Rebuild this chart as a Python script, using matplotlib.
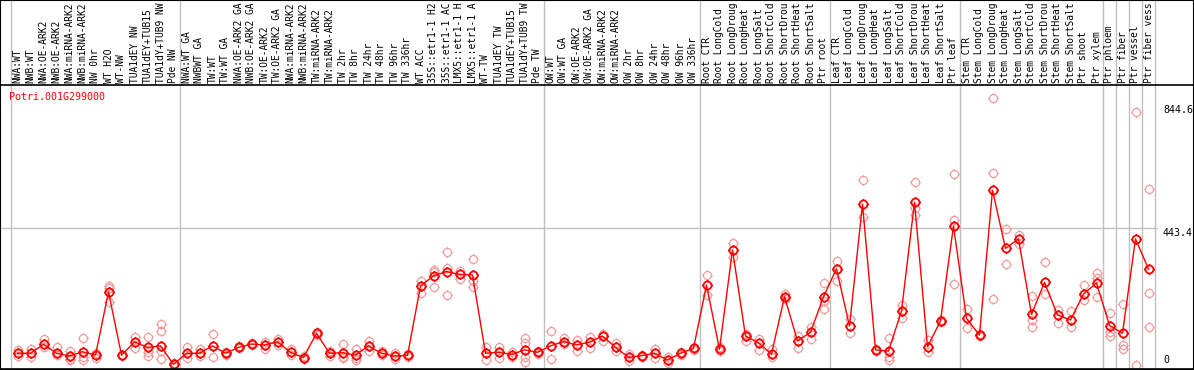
import matplotlib
matplotlib.use('Agg')
import matplotlib.pyplot as plt
from matplotlib.path import Path
from matplotlib.lines import Line2D
from matplotlib.patches import Rectangle
import numpy as np

# Sample names, in plot order (the chart shows at most 14 characters)
labels = [
    'NWA:WT', 'NWB:WT', 'NWA:OE-ARK2', 'NWB:OE-ARK2', 'NWA:miRNA-ARK2', 'NWB:miRNA-ARK2',
    'NW 0hr', 'WT H2O', 'WT-NW', 'TUA1dEY NW', 'TUA1dEY+TUB15', 'TUA1dY+TUB9 NW', 'Pde NW',
    'NWA:WT GA', 'NWBWT GA', 'TW:WT', 'TW:WT GA', 'NWA:OE-ARK2 GA', 'NWB:OE-ARK2 GA',
    'TW:OE-ARK2', 'TW:OE-ARK2 GA', 'NWA:miRNA-ARK2', 'NWB:miRNA-ARK2', 'TW:miRNA-ARK2',
    'TW:miRNA-ARK2', 'TW 2hr', 'TW 8hr', 'TW 24hr', 'TW 48hr', 'TW 96hr', 'TW 336hr', 'WT ACC',
    '35S::etr1-1 H2', '35S::etr1-1 AC', 'LMX5::etr1-1 H', 'LMX5::etr1-1 A', 'WT-TW',
    'TUA1dEY TW', 'TUA1dEY+TUB15', 'TUA1dY+TUB9 TW', 'Pde TW',
    'OW:WT', 'OW:WT GA', 'OW:OE-ARK2', 'OW:OE-ARK2 GA', 'OW:miRNA-ARK2', 'OW:miRNA-ARK2',
    'OW 2hr', 'OW 8hr', 'OW 24hr', 'OW 48hr', 'OW 96hr', 'OW 336hr',
    'Root CTR', 'Root LongCold', 'Root LongDroug', 'Root LongHeat', 'Root LongSalt',
    'Root ShortCold', 'Root ShortDrou', 'Root ShortHeat', 'Root ShortSalt', 'Ptr root',
    'Leaf CTR', 'Leaf LongCold', 'Leaf LongDroug', 'Leaf LongHeat', 'Leaf LongSalt',
    'Leaf ShortCold', 'Leaf ShortDrou', 'Leaf ShortHeat', 'Leaf ShortSalt', 'Ptr leaf',
    'Stem CTR', 'Stem LongCold', 'Stem LongDroug', 'Stem LongHeat', 'Stem LongSalt',
    'Stem ShortCold', 'Stem ShortDrou', 'Stem ShortHeat', 'Stem ShortSalt', 'Ptr shoot',
    'Ptr xylem', 'Ptr phloem', 'Ptr fiber', 'Ptr vessel', 'Ptr fiber vess',
]

# number of samples in each block between separator lines
group_sizes = [13, 28, 12, 10, 10, 11, 1, 1, 1, 1]

means = [
    38, 38, 67, 38, 29, 43, 32, 237, 32, 75, 57, 62, 2,
    38, 38, 62, 38, 57, 68, 65, 75, 41, 24, 103, 38, 40, 32, 62, 38, 29, 31,
    256, 289, 303, 294, 292, 38, 41, 34, 49, 41,
    62, 76, 65, 74, 94, 57, 25, 30, 38, 16, 38, 54,
    259, 51, 373, 94, 72, 35, 222, 78, 106, 221,
    312, 126, 522, 49, 45, 175, 528, 59, 143, 451,
    151, 97, 567, 378, 409, 164, 268, 162, 146, 230, 266,
    128, 103, 409, 311,
]

reps = [
    [48, 28], [51, 25], [83, 59], [57, 33], [45, 21, 15], [87, 27, 16], [38, 22],
    [256, 251, 204], [30, 34], [90, 56], [91, 43, 29], [133, 110, 46, 18], [0, 5],
    [59, 22], [51, 29], [101, 27], [43, 33], [60, 54], [72, 64], [75, 51], [83, 65],
    [51, 31], [20, 28], [108, 97], [46, 30], [68, 27, 22], [52, 22, 16], [79, 46],
    [46, 33], [40, 18], [35, 27], [273, 233], [308, 303, 252], [368, 314, 227],
    [304, 280], [343, 272, 252], [57, 16], [59, 24], [43, 27], [87, 72, 27, 11], [45, 37],
    [110, 18], [86, 68], [81, 46], [90, 54], [102, 79], [70, 45], [36, 14], [34, 27],
    [52, 22], [27, 5], [43, 33], [58, 50],
    [291, 227], [58, 44], [395, 351], [102, 79], [85, 49], [51, 27], [230, 213],
    [94, 54], [124, 84], [265, 209, 181],
    [337, 272], [148, 105], [600, 481], [52, 46], [87, 27, 16], [194, 152],
    [595, 508, 487], [81, 43], [146, 140], [619, 470, 262],
    [182, 119], [101, 94], [865, 622, 214], [440, 327], [420, 393], [224, 146, 124],
    [333, 229], [178, 136], [175, 124], [259, 211], [297, 281, 220],
    [168, 108, 95], [197, 65, 52], [820, 0], [571, 233, 122],
]

ytick_vals = [844.6, 443.4, 0]
gene = 'Potri.001G299000'

W, H = 1194, 370
mono = 'DejaVu Sans Mono'
fs = 6.9

fig = plt.figure(figsize=(W / 100, H / 100), dpi=100)
ax = fig.add_axes([11 / W, 1 / H, 1144 / W, 284 / H])
ax.set_xlim(-0.5, len(labels) - 0.5)
ax.set_ylim(-13, 908)
ax.set_xticks([])
ax.set_yticks([])
for s in ax.spines.values():
    s.set_visible(False)

# circle marker with small ticks, like the original bitmap
circ = Path.unit_circle()
tk = Path([(1, 0), (1.3, 0), (-1, 0), (-1.3, 0), (0, 1), (0, 1.3), (0, -1), (0, -1.3)],
          [Path.MOVETO, Path.LINETO] * 4)
mk = Path.make_compound_path(circ, tk)

# separators between sample groups, running up through the label band
bounds = np.concatenate([[0], np.cumsum(group_sizes)]) - 0.5
for b in bounds:
    ax.axvline(b, ymin=0, ymax=368 / 284, color='#c0c0c0', lw=1, clip_on=False, zorder=1)

ax.axhline(443.4, xmin=-10 / 1144, xmax=1.002, color='#c0c0c0', lw=1, clip_on=False, zorder=1)

# replicates
xr, yr = [], []
for i, r in enumerate(reps):
    xr += [i] * len(r)
    yr += r
ax.plot(xr, yr, ls='none', marker=mk, ms=7.5, mfc='none', mec='#f09c9c', mew=0.9, zorder=2)

# means
x = np.arange(len(means))
ax.plot(x, means, color='red', lw=1.0, marker=mk, ms=7.5, mfc='none', mec='red', mew=1.3, zorder=3)

# sample labels
tr = ax.get_xaxis_transform()
for i, lab in enumerate(labels):
    ax.text(i, 1 + 2 / 284, lab, transform=tr, rotation=90, ha='center', va='bottom',
            fontsize=fs, family=mono, clip_on=False)

# value labels on the right
ytr = ax.get_yaxis_transform()
for v in ytick_vals:
    txt = ('%.1f' % v) if v else '0'
    ax.text(1 + 8 / 1144, v, txt, transform=ytr, ha='left', va='top' if v else 'bottom',
            fontsize=7.2, family=mono, clip_on=False)

fig.text(9 / W, 1 - 97 / H, gene, color='red', fontsize=7.2, family=mono, va='center', ha='left')

# frame lines
fig.add_artist(Line2D([0, 1], [285 / H, 285 / H], color='black', lw=1.2, transform=fig.transFigure))
fig.add_artist(Line2D([0, 1], [1 / H, 1 / H], color='black', lw=1.2, transform=fig.transFigure))
fig.patches.append(Rectangle((0, 0), 1, 1, transform=fig.transFigure, fill=False,
                             ec='black', lw=1.5))

fig.savefig('out.png', dpi=100)
